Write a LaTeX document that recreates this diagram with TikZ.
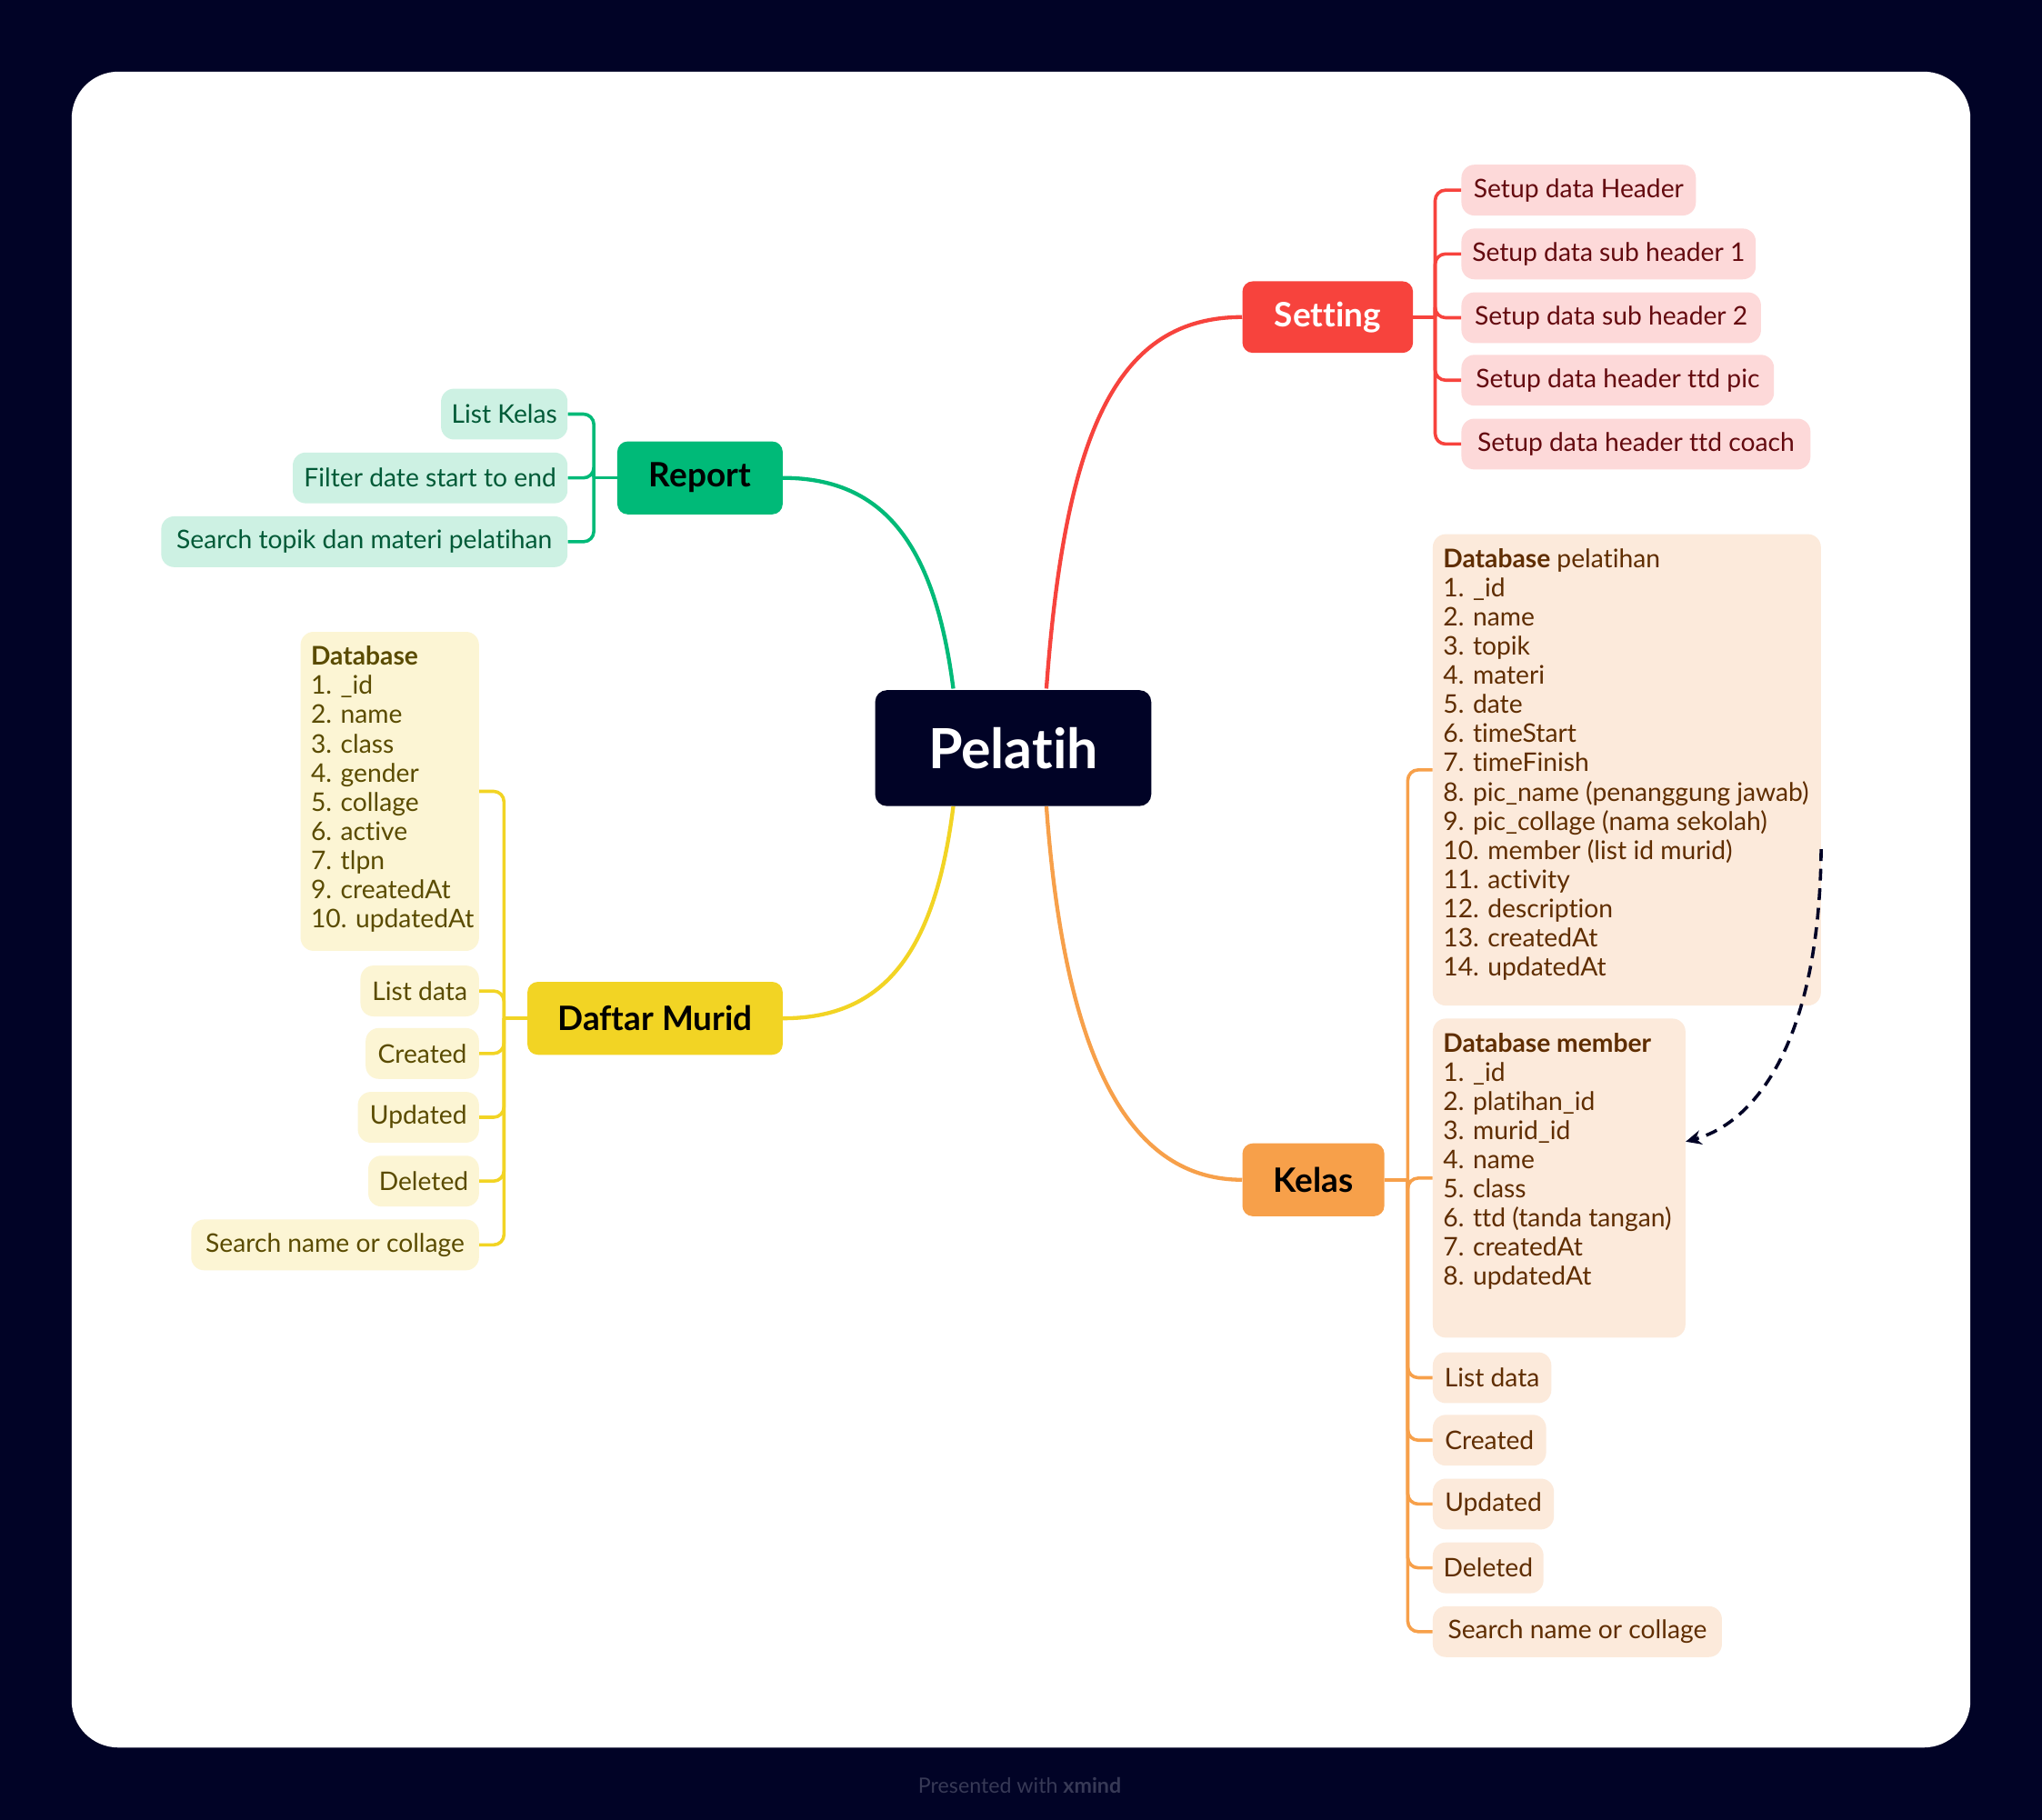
\documentclass[tikz,border=0pt]{standalone}
\usepackage{fontspec}
\setmainfont{Lato}[Ligatures=NoCommon]
\usetikzlibrary{arrows.meta}
\definecolor{navy}{RGB}{1,3,38}
\definecolor{footgray}{RGB}{55,57,86}
\definecolor{cred}{RGB}{247,67,61}
\definecolor{cgreen}{RGB}{0,186,120}
\definecolor{cyellow}{RGB}{242,212,36}
\definecolor{corange}{RGB}{247,160,74}
\definecolor{fred}{RGB}{253,217,217}
\definecolor{fgreen}{RGB}{205,241,227}
\definecolor{fyellow}{RGB}{252,245,212}
\definecolor{forange}{RGB}{252,234,219}
\definecolor{tred}{RGB}{100,10,15}
\definecolor{tgreen}{RGB}{0,90,55}
\definecolor{tyellow}{RGB}{90,75,0}
\definecolor{torange}{RGB}{95,45,0}
\newcommand\leaffont{\fontsize{19.7}{22.4}\selectfont}
\begin{document}
\begin{tikzpicture}[x=1pt,y=-1pt,
  topic/.style={rounded corners=8pt, inner sep=0pt, minimum height=56pt, font=\fontsize{25.8}{30}\selectfont\bfseries},
  leaf/.style={rounded corners=10pt, inner xsep=8pt, inner ysep=0pt, minimum height=39pt, font=\leaffont},
  dbbox/.style={rounded corners=10pt, inner xsep=8pt, inner ysep=10pt, font=\leaffont},
  redleaf/.style={leaf, fill=fred, text=tred, anchor=west},
  greenleaf/.style={leaf, fill=fgreen, text=tgreen, anchor=east},
  yellowleaf/.style={leaf, fill=fyellow, text=tyellow, anchor=east},
  orangeleaf/.style={leaf, fill=forange, text=torange, anchor=west},
  mainline/.style={line width=3pt},
  branch/.style={line width=2.5pt, rounded corners=8pt},
  relation/.style={navy, line width=2.5pt, dash pattern=on 9pt off 6pt, -{Stealth[length=12pt,width=11pt]}}
]
\fill[navy] (0,0) rectangle (1568,1397.6);
\useasboundingbox (0,0) rectangle (1568,1397.6);
\fill[white, rounded corners=36pt] (55,55) rectangle (1513,1342);

% central topic
\node[topic, fill=navy, text=white, minimum width=212pt, minimum height=89pt, rounded corners=9pt,
      font=\fontsize{42.5}{50}\selectfont\bfseries] (pelatih) at (778,574.5) {Pelatih};

% main topics
\node[topic, fill=cred, text=white, minimum width=131pt, minimum height=55pt] (setting) at (1019.5,243.5) {Setting};
\node[topic, fill=cgreen, text=black, minimum width=127pt] (report) at (537.5,367) {Report};
\node[topic, fill=cyellow, text=black, minimum width=196pt] (murid) at (503,782) {Daftar Murid};
\node[topic, fill=corange, text=black, minimum width=109pt] (kelas) at (1008.5,906) {Kelas};

% main connectors
\draw[mainline, cred] ([xshift=25.5pt,yshift=1pt]pelatih.north) .. controls (818,330) and (858,243.5) .. (setting.west);
\draw[mainline, cgreen] ([xshift=-46pt,yshift=1pt]pelatih.north) .. controls (718,420) and (680,367) .. (report.east);
\draw[mainline, cyellow] ([xshift=-46pt]pelatih.south) .. controls (718,730) and (680,782) .. (murid.east);
\draw[mainline, corange] ([xshift=25.5pt]pelatih.south) .. controls (818,820) and (870,906) .. (kelas.west);

% Setting children
\node[redleaf, minimum width=180pt] (s1) at (1122,146) {Setup data Header};
\node[redleaf, minimum width=226pt] (s2) at (1122,195) {Setup data sub header 1};
\node[redleaf, minimum width=230pt] (s3) at (1122,244) {Setup data sub header 2};
\node[redleaf, minimum width=240pt] (s4) at (1122,292) {Setup data header ttd pic};
\node[redleaf, minimum width=268pt] (s5) at (1122,341) {Setup data header ttd coach};
\coordinate (sb) at (1102,243.5);
\draw[branch, cred] (setting.east) -- (sb);
\foreach \n in {s1,s2,s3,s4,s5} \draw[branch, cred] (sb) |- (\n.west);

% Report children
\node[greenleaf, minimum width=97pt] (r1) at (436,318) {List Kelas};
\node[greenleaf, minimum width=211pt] (r2) at (436,367) {Filter date start to end};
\node[greenleaf, minimum width=312pt] (r3) at (436,416) {Search topik dan materi pelatihan};
\coordinate (rb) at (456,367);
\draw[branch, cgreen] (report.west) -- (rb);
\foreach \n in {r1,r2,r3} \draw[branch, cgreen] (rb) |- (\n.east);

% Daftar Murid children
\node[dbbox, fill=fyellow, text=tyellow, anchor=north east] (d0) at (368,485)
  {\begin{minipage}[t][225pt][t]{121pt}\begin{tabular}[t]{@{}l@{}}\textbf{Database}\\ 1. \_id\\ 2. name\\ 3. class\\ 4. gender\\ 5. collage\\ 6. active\\ 7. tlpn\\ 9. createdAt\\ 10. updatedAt\end{tabular}\end{minipage}};
\node[yellowleaf, minimum width=91pt] (d1) at (368,761) {List data};
\node[yellowleaf, minimum width=87pt] (d2) at (368,809) {Created};
\node[yellowleaf, minimum width=93pt] (d3) at (368,858) {Updated};
\node[yellowleaf, minimum width=85pt] (d4) at (368,907) {Deleted};
\node[yellowleaf, minimum width=221pt] (d5) at (368,956) {Search name or collage};
\coordinate (db) at (387,782);
\draw[branch, cyellow] (murid.west) -- (db);
\foreach \n in {d0,d1,d2,d3,d4,d5} \draw[branch, cyellow] (db) |- (\n.east);

% Kelas children
\node[dbbox, fill=forange, text=torange, anchor=north west] (k0) at (1100,410)
  {\begin{minipage}[t][342pt][t]{282pt}\begin{tabular}[t]{@{}l@{}}\textbf{Database} pelatihan\\ 1. \_id\\ 2. name\\ 3. topik\\ 4. materi\\ 5. date\\ 6. timeStart\\ 7. timeFinish\\ 8. pic\_name (penanggung jawab)\\ 9. pic\_collage (nama sekolah)\\ 10. member (list id murid)\\ 11. activity\\ 12. description\\ 13. createdAt\\ 14. updatedAt\end{tabular}\end{minipage}};
\node[dbbox, fill=forange, text=torange, anchor=north west] (k1) at (1100,782)
  {\begin{minipage}[t][225pt][t]{178pt}\begin{tabular}[t]{@{}l@{}}\textbf{Database member}\\ 1. \_id\\ 2. platihan\_id\\ 3. murid\_id\\ 4. name\\ 5. class\\ 6. ttd (tanda tangan)\\ 7. createdAt\\ 8. updatedAt\end{tabular}\end{minipage}};
\node[orangeleaf, minimum width=91pt] (k2) at (1100,1058) {List data};
\node[orangeleaf, minimum width=87pt] (k3) at (1100,1106) {Created};
\node[orangeleaf, minimum width=93pt] (k4) at (1100,1155) {Updated};
\node[orangeleaf, minimum width=85pt] (k5) at (1100,1204) {Deleted};
\node[orangeleaf, minimum width=222pt] (k6) at (1100,1253) {Search name or collage};
\coordinate (kb) at (1081,906);
\draw[branch, corange] (kelas.east) -- (kb);
\foreach \n in {k0,k1,k2,k3,k4,k5,k6} \draw[branch, corange] (kb) |- (\n.west);

% relationship
\draw[relation] ([yshift=-61pt]k0.east) .. controls (1397,800) and (1348,862) .. ([yshift=28pt]k1.east);

% footer
\node[font=\fontsize{16.2}{19}\selectfont, text=footgray] (footer) at (783,1371) {Presented with \textbf{xmind}};
\end{tikzpicture}
\end{document}
